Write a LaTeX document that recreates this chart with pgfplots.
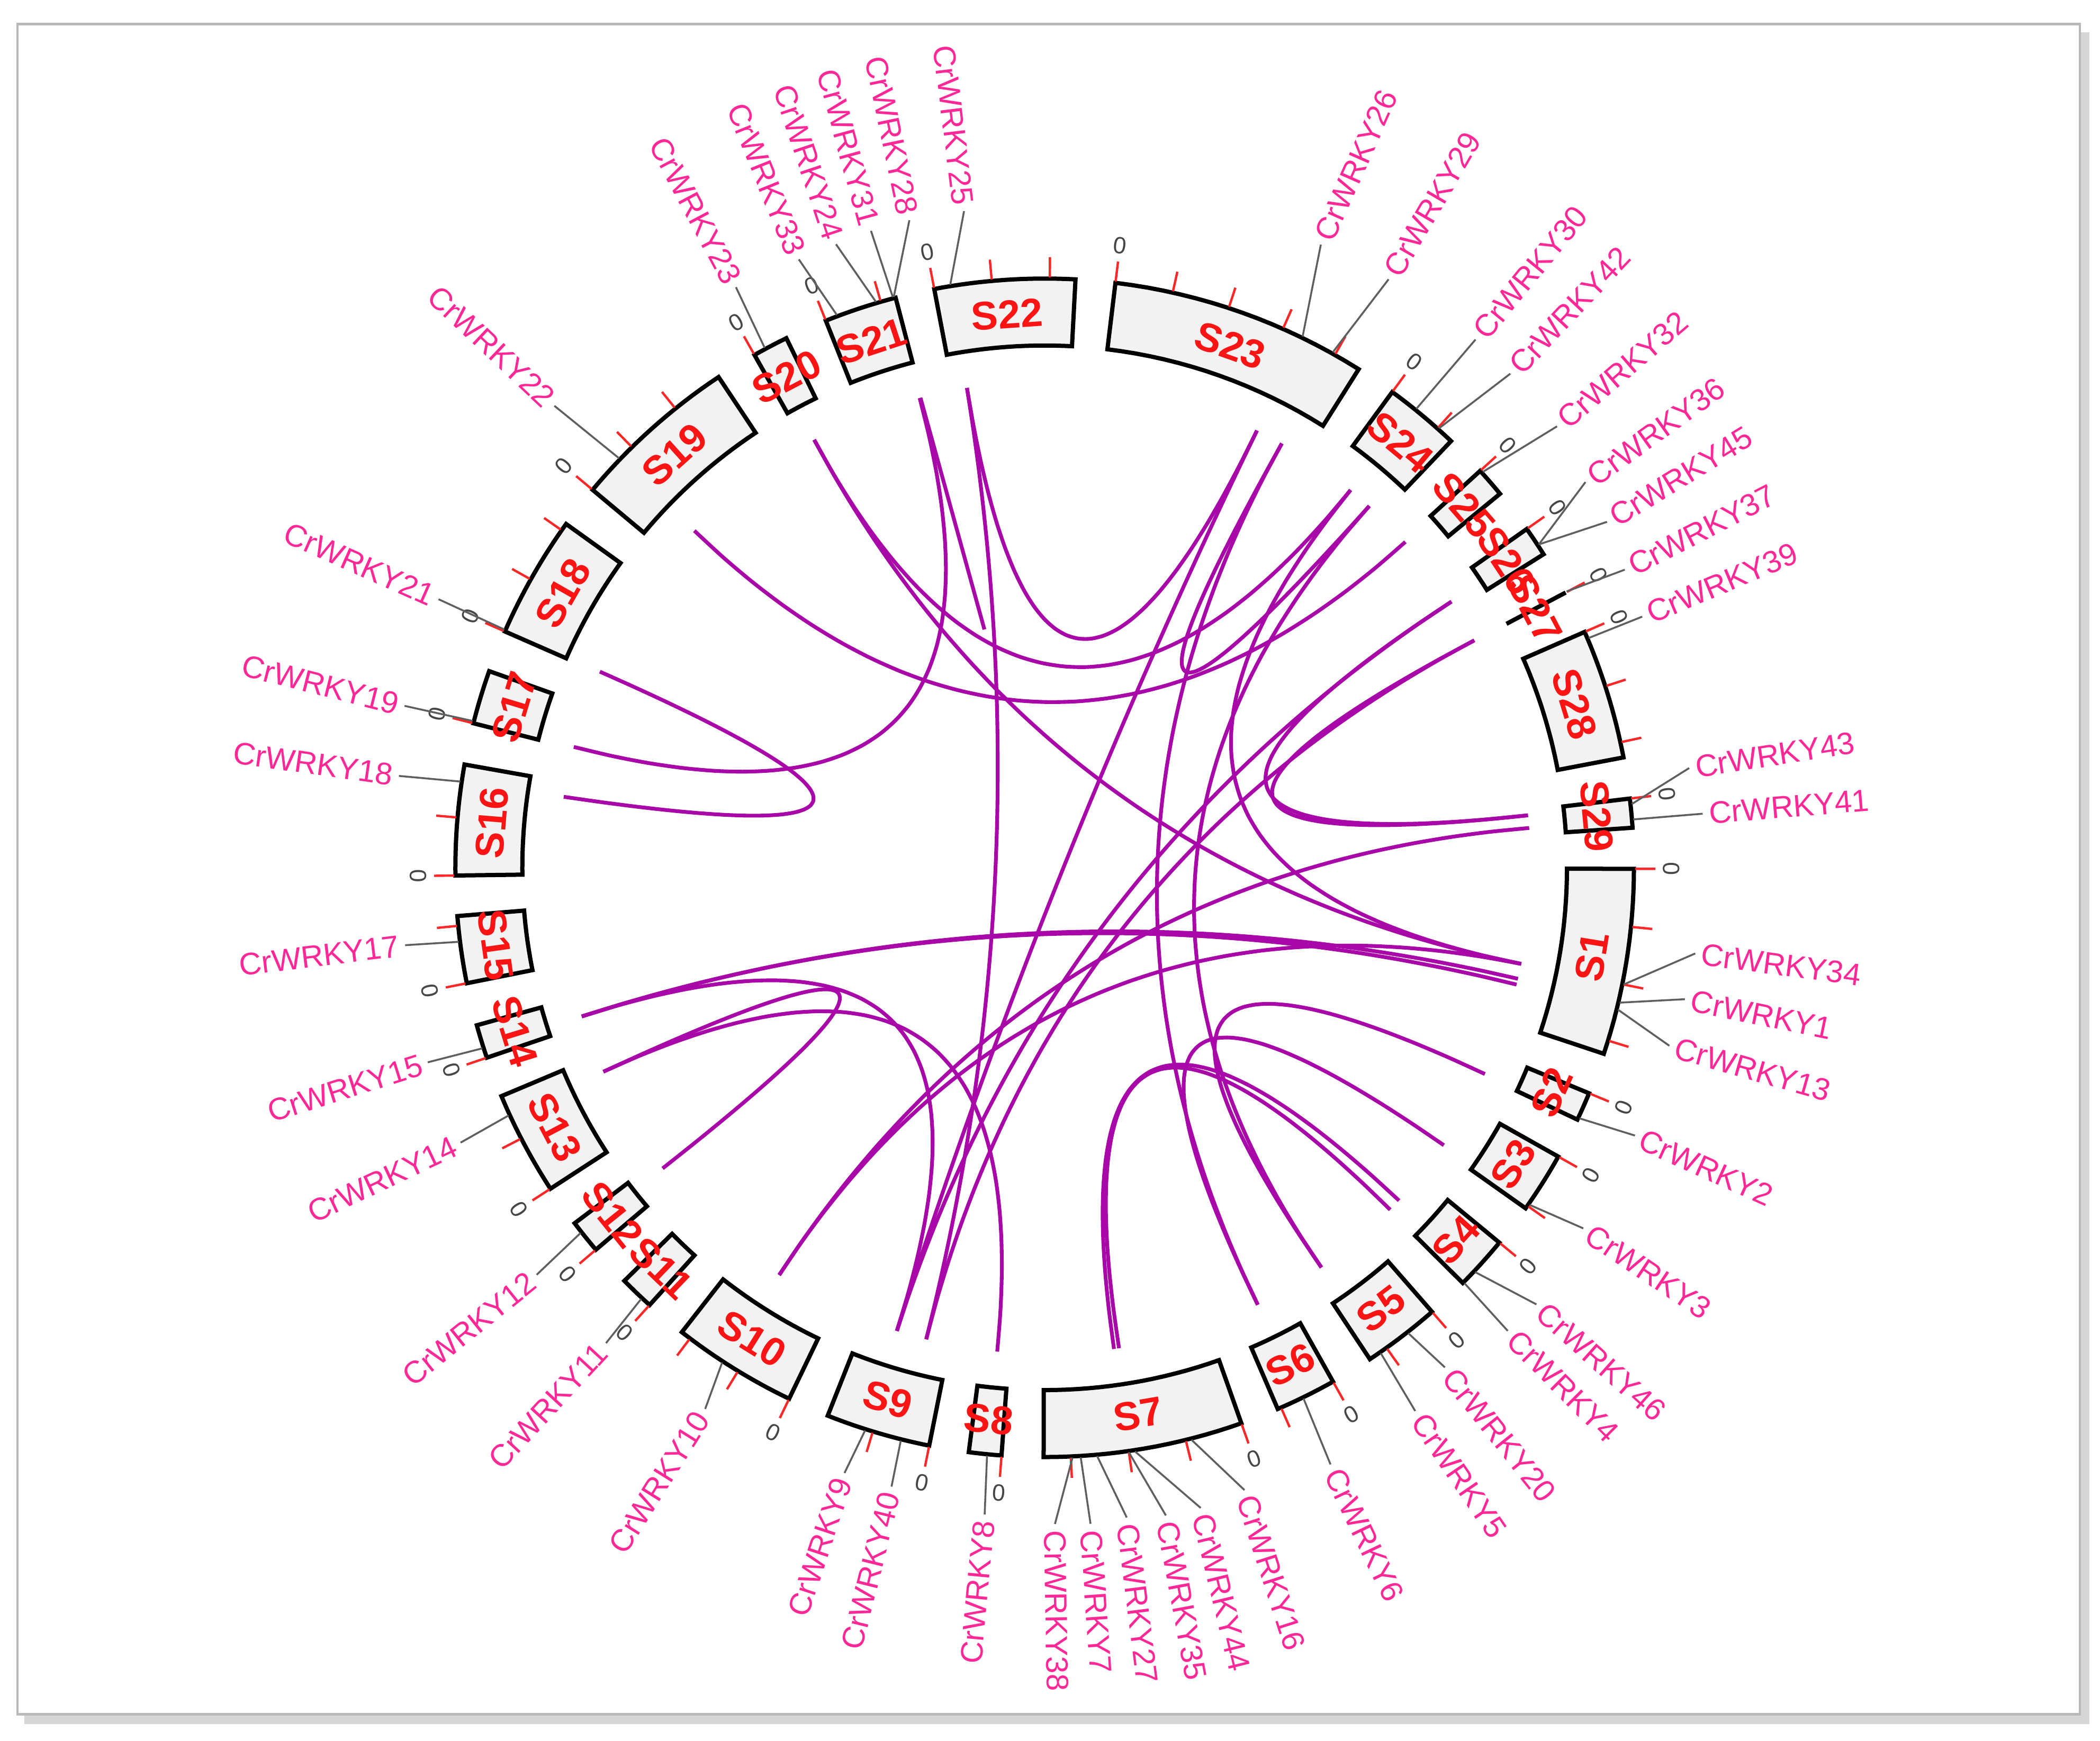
\documentclass[border=0pt]{standalone}
\usepackage{pgfplots}
\pgfplotsset{compat=1.18}
\usepackage{fontspec}
\setmainfont{Liberation Sans}

\definecolor{linkc}{RGB}{168,8,168}
\definecolor{genec}{RGB}{255,40,150}
\definecolor{segc}{RGB}{250,20,20}
\definecolor{segfill}{RGB}{242,242,242}
\definecolor{conc}{RGB}{95,95,95}
\definecolor{tickc}{RGB}{255,40,40}
\definecolor{zeroc}{RGB}{70,70,70}

\newcommand\segfont{\fontsize{8.5}{8.5}\selectfont\bfseries}
\newcommand\genefont{\fontsize{6.6}{6.6}\selectfont}
\newcommand\zerofont{\fontsize{5}{5}\selectfont}

% centre of the circle at (780,648), angles clockwise from 12 o'clock
\newcommand\pol[2]{%
  \pgfmathsetmacro\PX{780+(#2)*sin(#1)}%
  \pgfmathsetmacro\PY{648-(#2)*cos(#1)}}
\newcommand\tanrot[1]{%
  \pgfmathsetmacro\mm{mod(#1+720,360)}%
  \pgfmathsetmacro\rot{ifthenelse(and(\mm>90,\mm<270),180-\mm,-\mm)}}

% chromosome box: start angle, end angle, name
\newcommand\chrom[3]{%
  \def\pts{}%
  \pgfplotsforeachungrouped \ii in {0,1,...,16}{%
    \pgfmathsetmacro\ang{#1+(#2-#1)*\ii/16}%
    \pol{\ang}{440}\edef\pts{\pts(\PX,\PY)}}%
  \pgfplotsforeachungrouped \ii in {0,1,...,16}{%
    \pgfmathsetmacro\ang{#2-(#2-#1)*\ii/16}%
    \pol{\ang}{390}\edef\pts{\pts(\PX,\PY)}}%
  \edef\tmp{\noexpand\addplot[draw=black,line width=0.9pt,fill=segfill] coordinates {\pts} -- cycle;}\tmp
  \pgfplotsforeachungrouped \ii in {0,1,...,5}{%
    \pgfmathsetmacro\ang{#1+5.65*\ii}%
    \pgfmathparse{ifthenelse(\ang<#2+0.05,1,0)}%
    \ifdim\pgfmathresult pt>0.5pt
      \pol{\ang}{441}\let\xa\PX\let\ya\PY
      \pol{\ang}{456}%
      \edef\tmp{\noexpand\addplot[tickc,line width=0.5pt] coordinates {(\xa,\ya)(\PX,\PY)};}\tmp
    \fi}%
  \pol{#1}{468}\tanrot{#1}%
  \edef\tmp{\noexpand\node[zeroc,font=\noexpand\zerofont,rotate=\rot,inner sep=0pt] at (axis cs:\PX,\PY) {0};}\tmp
  \pgfmathsetmacro\ang{(#1+#2)/2}%
  \pol{\ang}{414}\tanrot{\ang}%
  \edef\tmp{\noexpand\node[segc,font=\noexpand\segfont,rotate=\rot,inner sep=0pt] at (axis cs:\PX,\PY) {#3};}\tmp}

% gene label: gene angle, label angle, label radius, number
\newcommand\gene[4]{%
  \pol{#1}{441}\let\xa\PX\let\ya\PY
  \pgfmathsetmacro\rr{#3-2}\pol{#2}{\rr}%
  \edef\tmp{\noexpand\addplot[conc,line width=0.4pt] coordinates {(\xa,\ya)(\PX,\PY)};}\tmp
  \pol{#2}{#3}%
  \pgfmathparse{ifthenelse(#2<180,1,0)}%
  \ifdim\pgfmathresult pt>0.5pt
    \pgfmathsetmacro\rot{90-#2}\def\anc{west}%
  \else
    \pgfmathsetmacro\rot{270-#2}\def\anc{east}%
  \fi
  \edef\tmp{\noexpand\node[genec,font=\noexpand\genefont,rotate=\rot,anchor=\anc,inner sep=0.6pt] at (axis cs:\PX,\PY) {CrWRKY#4};}\tmp}

% link between two gene angles (control point at the centre)
\newcommand\link[3]{%
  \def\pts{}%
  \pgfplotsforeachungrouped \ii in {0,1,...,24}{%
    \pgfmathsetmacro\uu{(1-\ii/24)*(1-\ii/24)}%
    \pgfmathsetmacro\vv{(\ii/24)*(\ii/24)}%
    \pgfmathsetmacro\PX{780+363*(\uu*sin(#1)+\vv*sin(#2))}%
    \pgfmathsetmacro\PY{648-363*(\uu*cos(#1)+\vv*cos(#2))}%
    \edef\pts{\pts(\PX,\PY)}}%
  \edef\tmp{\noexpand\addplot[linkc,line width=#3,smooth] coordinates {\pts};}\tmp}

\begin{document}
\begin{tikzpicture}
\begin{axis}[width=156.8mm, height=130mm, scale only axis,
  xmin=0, xmax=1568, ymin=0, ymax=1300, y dir=reverse,
  hide axis, clip=false]

  \addplot[draw=none] coordinates {(0,0) (1568,1300)};
  % frame with shadow
  \addplot[draw=black!16, line width=2.4pt] coordinates {(1556,24) (1556,1283) (18,1283)};
  \addplot[draw=black!28, line width=0.5pt, fill=white] coordinates {(13,18) (1553,18) (1553,1280) (13,1280)} -- cycle;

  % links
  \link{345.1}{284.4}{0.8pt}
  \link{293.8}{278.4}{0.8pt}
  \link{313.9}{47.9}{0.8pt}
  \link{331.7}{39.0}{0.8pt}
  \link{331.7}{101.4}{0.8pt}
  \link{350.8}{25.9}{0.8pt}
  \link{350.8}{194.1}{0.8pt}
  \link{29.2}{41.9}{0.8pt}
  \link{25.9}{197.7}{0.8pt}
  \link{39.0}{101.4}{0.8pt}
  \link{56.8}{83.8}{0.8pt}
  \link{62.1}{83.8}{0.8pt}
  \link{213.1}{85.3}{0.8pt}
  \link{252.2}{103.2}{0.8pt}
  \link{252.2}{103.9}{0.8pt}
  \link{252.2}{197.7}{0.8pt}
  \link{245.2}{185.6}{0.8pt}
  \link{245.2}{231.8}{0.8pt}
  \link{171.2}{134.7}{0.8pt}
  \link{171.8}{133.2}{0.8pt}
  \link{41.9}{145.3}{0.8pt}
  \link{29.2}{154.0}{0.8pt}
  \link{115.1}{145.3}{0.8pt}
  \link{124.8}{154.0}{0.8pt}
  \link{213.1}{101.4}{0.8pt}
  \link{56.8}{197.7}{0.8pt}
  \link{62.1}{194.1}{0.8pt}
  \pol{345.2}{363}%
  \edef\tmp{\noexpand\addplot[linkc,line width=0.8pt] coordinates {(\PX,\PY) (735,470)};}\tmp

  % chromosomes
  \chrom{90.1}{108.4}{S1}
  \chrom{112.5}{115.3}{S2}
  \chrom{119.35}{125.3}{S3}
  \chrom{129.5}{134.8}{S4}
  \chrom{138.9}{146.5}{S5}
  \chrom{150.7}{156.7}{S6}
  \chrom{160.5}{180.1}{S7}
  \chrom{184.2}{187.4}{S8}
  \chrom{191.3}{201.6}{S9}
  \chrom{205.7}{218.0}{S10}
  \chrom{222.1}{225.5}{S11}
  \chrom{229.6}{232.9}{S12}
  \chrom{237.0}{247.2}{S13}
  \chrom{251.2}{254.5}{S14}
  \chrom{258.7}{265.3}{S15}
  \chrom{269.25}{280.1}{S16}
  \chrom{284.2}{289.5}{S17}
  \chrom{293.65}{305.7}{S18}
  \chrom{309.9}{326.4}{S19}
  \chrom{330.5}{334.0}{S20}
  \chrom{338.2}{345.35}{S21}
  \chrom{349.2}{363.0}{S22}
  \chrom{6.9}{32.2}{S23}
  \chrom{36.15}{43.6}{S24}
  \chrom{47.65}{50.6}{S25}
  \chrom{54.9}{57.85}{S26}
  \chrom{62.15}{62.15}{S27}
  \chrom{66.4}{79.2}{S28}
  \chrom{83.25}{86.1}{S29}

  % gene labels
  \gene{83.8}{81.2}{489}{43}
  \gene{85.3}{85.3}{495}{41}
  \gene{101.4}{97.5}{492}{34}
  \gene{103.2}{101.6}{490}{1}
  \gene{103.9}{105.9}{487}{13}
  \gene{115.1}{114.4}{486}{2}
  \gene{124.8}{123.8}{486}{3}
  \gene{133.2}{131.6}{493}{46}
  \gene{134.7}{135.0}{491}{4}
  \gene{142.0}{141.3}{480}{20}
  \gene{145.3}{145.7}{493}{5}
  \gene{154.0}{154.4}{496}{6}
  \gene{165.6}{162.2}{490}{16}
  \gene{171.2}{166.3}{494}{44}
  \gene{171.8}{169.4}{494}{35}
  \gene{174.9}{172.8}{491}{27}
  \gene{176.5}{176.0}{493}{7}
  \gene{177.3}{179.1}{492}{38}
  \gene{185.6}{185.3}{487}{8}
  \gene{194.1}{193.9}{478}{40}
  \gene{197.7}{198.3}{478}{9}
  \gene{213.1}{212.1}{479}{10}
  \gene{223.1}{222.7}{485}{11}
  \gene{231.8}{231.3}{488}{12}
  \gene{245.2}{244.8}{484}{14}
  \gene{252.2}{252.5}{485}{15}
  \gene{262.8}{263.1}{483}{17}
  \gene{278.4}{278.1}{489}{18}
  \gene{284.4}{284.2}{495}{19}
  \gene{293.8}{293.9}{497}{21}
  \gene{313.9}{313.3}{505}{22}
  \gene{331.7}{332.0}{493}{23}
  \gene{339.4}{338.0}{492}{33}
  \gene{343.4}{341.5}{493}{24}
  \gene{345.1}{344.75}{495}{31}
  \gene{345.2}{348.2}{496}{28}
  \gene{350.8}{353.0}{496}{25}
  \gene{25.9}{23.9}{511}{26}
  \gene{29.2}{30.3}{511}{29}
  \gene{39.0}{39.2}{511}{30}
  \gene{41.9}{43.3}{509}{42}
  \gene{47.9}{49.25}{507}{32}
  \gene{56.8}{54.5}{498}{36}
  \gene{56.8}{58.4}{495}{45}
  \gene{62.1}{62.8}{489}{37}
  \gene{67.1}{67.2}{486}{39}
\end{axis}
\end{tikzpicture}
\end{document}
